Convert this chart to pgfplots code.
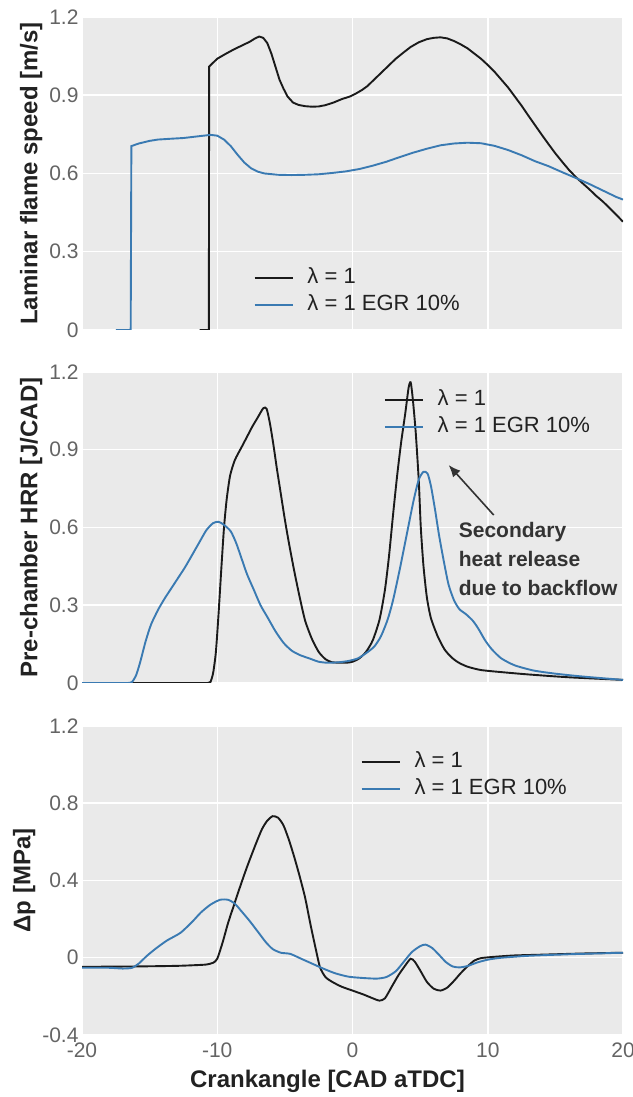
\documentclass[border=0pt]{standalone}
\usepackage{fontspec}
\setmainfont{Liberation Sans}
\usepackage{pgfplots}
\pgfplotsset{compat=1.18}
\usetikzlibrary{arrows.meta}

\definecolor{bg}{RGB}{234,234,234}
\definecolor{egr}{RGB}{58,122,178}
\definecolor{base}{RGB}{26,26,26}
\definecolor{tickgray}{RGB}{100,100,100}
\definecolor{labcol}{RGB}{34,34,34}
\definecolor{annot}{RGB}{51,51,51}

\pgfplotsset{
  panel/.style={
    scale only axis,
    width=541pt,
    anchor=south west,
    xmin=-20, xmax=20,
    xtick={-20,-10,0,10,20},
    axis background/.style={fill=bg},
    grid=major,
    major grid style={white, line width=1.5pt},
    axis line style={draw=none},
    major tick length=0pt,
    /pgf/number format/assume math mode=true,
    tick label style={font=\fontsize{21}{21}\selectfont, text=tickgray},
    ylabel style={font=\fontsize{24}{24}\selectfont\bfseries, text=labcol},
    xlabel style={font=\fontsize{24}{24}\selectfont\bfseries, text=labcol},
    legend style={draw=none, fill=none, anchor=north west, inner sep=0pt,
      font=\fontsize{22}{22}\selectfont, text=labcol,
      row sep=6pt,
      nodes={inner sep=0pt, text height=16pt, text depth=5pt},
      /tikz/every odd column/.append style={column sep=14pt}},
    legend cell align=left,
    legend image code/.code={\draw[#1] (0pt,0pt) -- (38pt,0pt);},
  },
  nolabels/.style={xticklabels={{},{},{},{},{}}},
  lam/.style={base, line width=1.9pt},
  egrl/.style={egr, line width=1.9pt},
}

\begin{document}
\begin{tikzpicture}
\useasboundingbox (0pt,0pt) rectangle (632pt,1097pt);

% Laminar flame speed
\begin{axis}[panel, nolabels, at={(82pt,767pt)}, height=313pt,
  ymin=0, ymax=1.2, ytick={0,0.3,0.6,0.9,1.2},
  ylabel={Laminar flame speed [m/s]},
  legend style={at={(axis cs:-7.33,0.242)}}]
\addplot[lam] coordinates {
(-11.3,0) (-10.62,0) (-10.6,1.01) (-10.3,1.025) (-10.0,1.04) (-9.4,1.058)
(-8.8,1.075) (-8.2,1.09) (-7.6,1.105) (-7.2,1.118) (-6.9,1.125) (-6.6,1.12)
(-6.3,1.10) (-6.0,1.06) (-5.7,1.01) (-5.4,0.96) (-5.1,0.925) (-4.8,0.895)
(-4.4,0.872) (-4.0,0.863) (-3.5,0.858) (-3.0,0.856) (-2.5,0.857) (-2.0,0.862)
(-1.4,0.872) (-0.8,0.885) (-0.2,0.895) (0.2,0.905) (0.7,0.92) (1.1,0.935)
(1.6,0.96) (2.1,0.985) (2.6,1.01) (3.2,1.04) (3.8,1.065) (4.3,1.085)
(4.9,1.103) (5.5,1.115) (6.0,1.12) (6.5,1.122) (7.0,1.118) (7.5,1.108)
(8.0,1.095) (8.5,1.08) (9.0,1.06) (9.5,1.04) (10.0,1.016) (10.5,0.99)
(11.0,0.96) (11.5,0.93) (12.0,0.895) (12.5,0.86) (13.0,0.822) (13.5,0.785)
(14.0,0.748) (14.5,0.712) (15.0,0.677) (15.5,0.645) (16.0,0.614) (16.5,0.587)
(17.0,0.563) (17.5,0.54) (18.0,0.515) (18.5,0.493) (19.0,0.468) (19.5,0.442)
(20.0,0.415)};
\addlegendentry{λ = 1}
\addplot[egrl] coordinates {
(-17.5,0) (-16.4,0) (-16.35,0.705) (-15.8,0.715) (-15.0,0.725) (-14.4,0.73)
(-13.5,0.733) (-12.5,0.736) (-11.5,0.742) (-10.5,0.748) (-10.0,0.745)
(-9.5,0.73) (-9.0,0.705) (-8.5,0.672) (-8.0,0.642) (-7.5,0.62) (-7.0,0.607)
(-6.5,0.60) (-5.5,0.595) (-4.5,0.594) (-3.5,0.595) (-2.5,0.597) (-1.5,0.602)
(-0.5,0.608) (0.5,0.617) (1.5,0.63) (2.5,0.645) (3.5,0.663) (4.5,0.68)
(5.5,0.695) (6.5,0.708) (7.5,0.715) (8.5,0.718) (9.5,0.716) (10.5,0.706)
(11.5,0.69) (12.5,0.67) (13.5,0.647) (14.5,0.628) (15.5,0.605) (16.5,0.583)
(17.5,0.56) (18.5,0.535) (19.5,0.51) (20.0,0.50)};
\addlegendentry{λ = 1 EGR 10\%}
\end{axis}

% Pre-chamber heat release rate
\begin{axis}[panel, nolabels, at={(82pt,414pt)}, height=311pt,
  ymin=0, ymax=1.2, ytick={0,0.3,0.6,0.9,1.2},
  ylabel={Pre-chamber HRR [J/CAD]},
  legend style={at={(axis cs:2.3,1.134)}}]
\addplot[lam, smooth, tension=0.4] coordinates {
(-20,0) (-16,0) (-13,0) (-11.5,0) (-11,0) (-10.7,0) (-10.5,0.004)
(-10.3,0.04) (-10.1,0.12) (-9.9,0.27) (-9.7,0.44) (-9.5,0.6)
(-9.3,0.71) (-9.05,0.8) (-8.7,0.86) (-8.2,0.91) (-7.8,0.95) (-7.4,0.99)
(-7.0,1.025) (-6.6,1.06) (-6.35,1.058) (-6.1,1.0) (-5.85,0.92) (-5.6,0.83)
(-5.3,0.73) (-5.0,0.63) (-4.7,0.54) (-4.3,0.43) (-3.9,0.33) (-3.5,0.24)
(-3.0,0.17) (-2.5,0.12) (-2.0,0.092) (-1.5,0.08) (-0.5,0.078) (0.0,0.082)
(0.5,0.095) (1.0,0.12) (1.5,0.165) (2.0,0.245) (2.4,0.36) (2.7,0.49)
(3.0,0.65) (3.3,0.8) (3.6,0.93) (3.9,1.04) (4.15,1.14) (4.3,1.16)
(4.45,1.10) (4.67,0.97) (4.9,0.78) (5.05,0.6) (5.25,0.45) (5.5,0.33)
(5.8,0.25) (6.3,0.18) (6.8,0.13) (7.3,0.1) (7.8,0.08) (8.5,0.063)
(9.5,0.05) (11,0.042) (13,0.033) (16,0.022) (20,0.012)};
\addlegendentry{λ = 1}
\addplot[egrl, smooth, tension=0.4] coordinates {
(-20,0) (-18,0) (-17,0) (-16.6,0) (-16.3,0.004) (-16.0,0.03) (-15.7,0.08)
(-15.3,0.16) (-14.9,0.225) (-14.4,0.28) (-13.9,0.325) (-13.4,0.365)
(-12.9,0.405) (-12.4,0.445) (-11.9,0.49) (-11.3,0.545) (-10.8,0.59)
(-10.3,0.617) (-9.9,0.622) (-9.5,0.61) (-9.0,0.585) (-8.6,0.54) (-8.2,0.48)
(-7.8,0.42) (-7.3,0.36) (-6.8,0.30) (-6.3,0.255) (-5.7,0.2) (-5.1,0.155)
(-4.5,0.125) (-3.9,0.108) (-3.2,0.095) (-2.5,0.082) (-1.8,0.078) (-1.0,0.08)
(-0.3,0.085) (0.4,0.095) (1.0,0.115) (1.6,0.14) (2.1,0.18) (2.6,0.245)
(3.0,0.32) (3.5,0.44) (4.0,0.57) (4.5,0.70) (4.9,0.785) (5.25,0.815)
(5.55,0.808) (5.8,0.76) (6.1,0.67) (6.4,0.57) (6.75,0.47) (7.1,0.38)
(7.5,0.32) (7.9,0.285) (8.4,0.265) (8.9,0.24) (9.3,0.21) (9.8,0.165)
(10.3,0.13) (11,0.095) (12,0.068) (13.4,0.048) (15,0.036) (17,0.025)
(20,0.012)};
\addlegendentry{λ = 1 EGR 10\%}
\draw[annot, line width=1.6pt, -{Latex[length=12pt,width=10pt]}]
  (axis cs:10.44,0.648) -- (axis cs:7.11,0.841);
\node[anchor=north west, align=left, inner sep=0pt, text=annot,
  font=\fontsize{21}{29}\selectfont\bfseries]
  at (axis cs:7.85,0.62) {Secondary\\heat release\\due to backflow};
\end{axis}

% Pressure difference
\begin{axis}[panel, at={(82pt,62pt)}, height=309pt,
  ymin=-0.4, ymax=1.2, ytick={-0.4,0,0.4,0.8,1.2},
  xticklabel style={yshift=-4pt},
  ylabel={Δp [MPa]},
  xlabel={Crankangle [CAD aTDC]},
  xlabel style={xshift=-25pt, yshift=-6pt},
  legend style={at={(axis cs:0.59,1.07)}}]
\addplot[lam, smooth, tension=0.4] coordinates {
(-20,-0.047) (-16,-0.045) (-13,-0.042) (-11.5,-0.038) (-10.8,-0.035)
(-10.3,-0.026) (-10.0,-0.005) (-9.6,0.08) (-9.2,0.18) (-8.8,0.265)
(-8.3,0.37) (-7.8,0.47) (-7.2,0.58) (-6.7,0.665) (-6.3,0.71) (-5.9,0.733)
(-5.5,0.725) (-5.1,0.685) (-4.7,0.61) (-4.3,0.52) (-3.9,0.42) (-3.5,0.31)
(-3.1,0.17) (-2.7,0.04) (-2.4,-0.05) (-2.0,-0.1) (-1.5,-0.125) (-0.8,-0.15)
(0.0,-0.17) (0.8,-0.19) (1.5,-0.21) (2.0,-0.222) (2.4,-0.21) (2.9,-0.15)
(3.4,-0.09) (3.9,-0.04) (4.3,-0.005) (4.6,-0.02) (5.0,-0.065) (5.5,-0.125)
(6.0,-0.16) (6.5,-0.17) (7.0,-0.155) (7.5,-0.12) (8.0,-0.08) (8.5,-0.045)
(9.0,-0.015) (9.5,-0.002) (10.5,0.005) (12,0.012) (14,0.016) (17,0.022)
(20,0.026)};
\addlegendentry{λ = 1}
\addplot[egrl, smooth, tension=0.4] coordinates {
(-20,-0.052) (-18,-0.052) (-17,-0.056) (-16.3,-0.052) (-15.8,-0.03)
(-15.2,0.01) (-14.5,0.05) (-13.7,0.09) (-12.7,0.13) (-11.8,0.19)
(-11.2,0.235) (-10.5,0.275) (-9.8,0.3) (-9.2,0.3) (-8.7,0.28) (-8.2,0.24)
(-7.6,0.19) (-7.0,0.135) (-6.4,0.08) (-5.9,0.045) (-5.3,0.026) (-4.6,0.02)
(-3.8,-0.005) (-3.0,-0.03) (-2.2,-0.055) (-1.3,-0.08) (-0.3,-0.098)
(0.8,-0.105) (1.8,-0.108) (2.5,-0.1) (3.2,-0.07) (3.8,-0.02) (4.4,0.03)
(5.0,0.06) (5.4,0.068) (5.9,0.05) (6.4,0.015) (6.9,-0.022) (7.4,-0.045)
(7.9,-0.05) (8.5,-0.043) (9.2,-0.025) (10,-0.01) (11,0.0) (13,0.01)
(16,0.018) (20,0.026)};
\addlegendentry{λ = 1 EGR 10\%}
\end{axis}
\end{tikzpicture}
\end{document}
